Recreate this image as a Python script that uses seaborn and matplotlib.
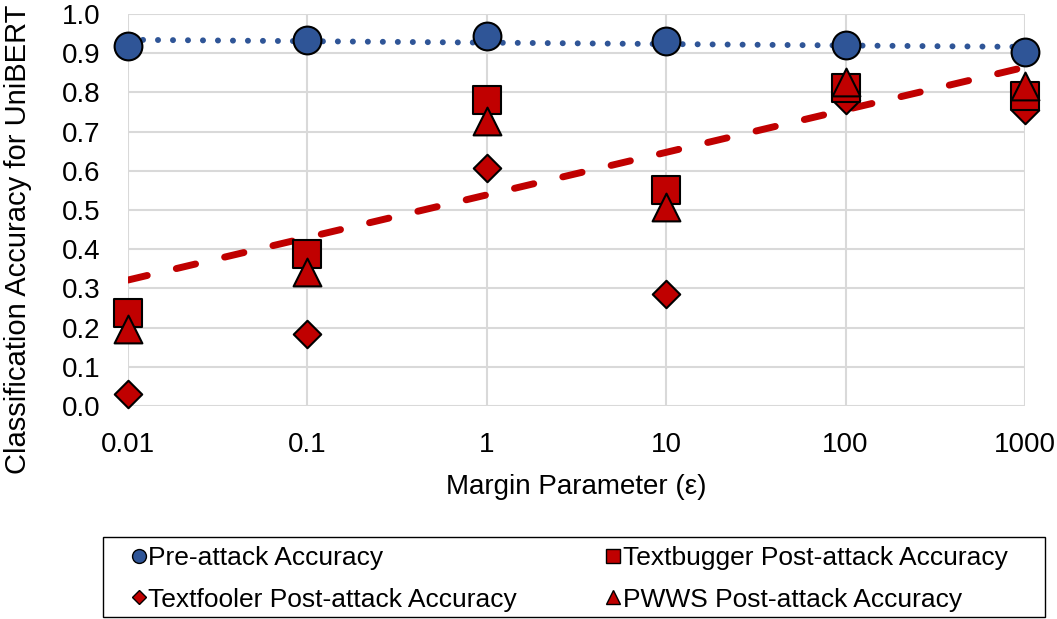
import numpy as np
import pandas as pd
import matplotlib
matplotlib.use("Agg")
import matplotlib.pyplot as plt
from matplotlib.lines import Line2D
from matplotlib.patches import Rectangle
import seaborn as sns

# Margin parameter values and accuracies per attack
margins = [0.01, 0.1, 1, 10, 100, 1000]
tick_labels = ["0.01", "0.1", "1", "10", "100", "1000"]
pre_attack = [0.918, 0.934, 0.944, 0.931, 0.921, 0.903]
textbugger = [0.237, 0.388, 0.781, 0.551, 0.810, 0.790]
textfooler = [0.030, 0.184, 0.607, 0.286, 0.780, 0.755]
pwws = [0.196, 0.342, 0.726, 0.508, 0.827, 0.816]

BLUE = "#2F5597"
RED = "#C00000"

sns.set_theme(style="white")
plt.rcParams["font.family"] = ["Liberation Sans", "DejaVu Sans"]
for key in ("text.color", "axes.labelcolor", "xtick.color", "ytick.color"):
    plt.rcParams[key] = "#000000"

W, H = 1057, 619
fig = plt.figure(figsize=(W / 100, H / 100), dpi=100)
ax = fig.add_axes([128 / W, 1 - 406 / H, (1025 - 128) / W, (406 - 14) / H])

ax.set_xscale("log")
ax.set_xlim(0.01, 1000)
ax.set_ylim(0, 1.0)

# logarithmic trendlines (least squares on log10 of the margin)
lx = np.log10(margins)
xs = np.array([0.01, 1000])
for vals, color, ls, lw in [(pre_attack, BLUE, (0, (0.01, 2.5)), 4.3),
                            (textbugger, RED, (0, (2.85, 4.3)), 5.0)]:
    k, b = np.polyfit(lx, vals, 1)
    trend = pd.DataFrame({"x": xs, "y": k * np.log10(xs) + b})
    sns.lineplot(data=trend, x="x", y="y", ax=ax, color=color, linewidth=lw,
                 linestyle=ls, legend=False, zorder=3)
for line in ax.lines:
    line.set_dash_capstyle("round")
    line.set_solid_capstyle("round")

series = [
    (pre_attack, "o", BLUE, 20),
    (textfooler, "D", RED, 14),
    (textbugger, "s", RED, 20),
    (pwws, "^", RED, 20),
]
for vals, mk, color, ms in series:
    df = pd.DataFrame({"x": margins, "y": vals})
    sns.scatterplot(data=df, x="x", y="y", ax=ax, marker=mk, color=color,
                    s=ms ** 2, edgecolor="black", linewidth=1.5,
                    legend=False, zorder=4, clip_on=False)

ax.set_xticks(margins)
ax.set_xticklabels(tick_labels)
ax.xaxis.set_minor_locator(matplotlib.ticker.NullLocator())
yt = np.round(np.arange(0, 1.01, 0.1), 1)
ax.set_yticks(yt)
ax.set_yticklabels([f"{v:.1f}" for v in yt])
ax.tick_params(axis="both", labelsize=20, length=0)
ax.tick_params(axis="x", pad=18.5)
ax.tick_params(axis="y", pad=20)

ax.grid(True, color="#D9D9D9", linewidth=1.5)
ax.set_axisbelow(True)
for sp in ax.spines.values():
    sp.set_visible(False)

ax.set_xlabel("Margin Parameter (\u03b5)", fontsize=20, labelpad=12)
ax.set_ylabel("Classification Accuracy for UniBERT", fontsize=21)
ax.yaxis.label.set_verticalalignment("center")
ax.yaxis.set_label_coords((18 - 128) / 897, (406 - 239) / 392)

handles = [
    Line2D([], [], marker="o", color=BLUE, ls="none", ms=10, mec="black", mew=1.0),
    Line2D([], [], marker="D", color=RED, ls="none", ms=7, mec="black", mew=1.0),
    Line2D([], [], marker="s", color=RED, ls="none", ms=10, mec="black", mew=1.0),
    Line2D([], [], marker="^", color=RED, ls="none", ms=10, mec="black", mew=1.0),
]
labels = ["Pre-attack Accuracy", "Textfooler Post-attack Accuracy",
          "Textbugger Post-attack Accuracy", "PWWS Post-attack Accuracy"]
leg = fig.legend(handles, labels, ncol=2, loc="center left",
                 bbox_to_anchor=(110 / W, 1 - 579 / H),
                 fontsize=19, frameon=False,
                 handlelength=0.6, handletextpad=0.05, borderpad=0.3,
                 labelspacing=0.66, columnspacing=3.35)

# legend border box
fig.patches.append(Rectangle((103 / W, 1 - 617 / H), 942 / W, 80 / H,
                             transform=fig.transFigure, fill=False,
                             edgecolor="#000000", linewidth=1.0))

fig.savefig("out.png", dpi=100)
